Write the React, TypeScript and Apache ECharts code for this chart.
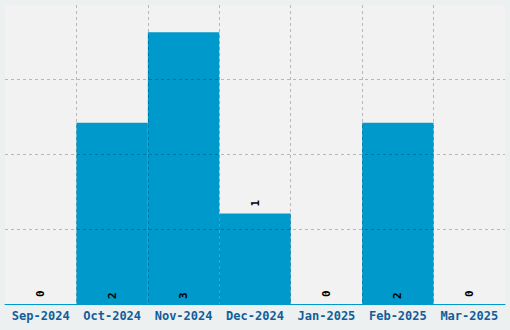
import React, { useEffect, useRef } from "react";
import * as echarts from "echarts";

const categories = ["Sep-2024", "Oct-2024", "Nov-2024", "Dec-2024", "Jan-2025", "Feb-2025", "Mar-2025"];
const values = [0, 2, 3, 1, 0, 2, 0];
const labelInside = [false, true, true, false, false, true, false];

export default function App() {
  const ref = useRef<HTMLDivElement>(null);
  useEffect(() => {
    if (!ref.current) return;
    const chart = echarts.init(ref.current, null, { renderer: "svg" });
    const mono = "DejaVu Sans Mono";
    chart.setOption({
      animation: false,
      backgroundColor: "#edf0f1",
      grid: {
        left: 5,
        right: 5,
        top: 5,
        bottom: 26,
        show: true,
        backgroundColor: "#f2f2f2",
        borderWidth: 0,
      },
      xAxis: {
        type: "category",
        data: categories,
        z: 5,
        axisLine: { show: true, lineStyle: { color: "#0099cc", width: 1 } },
        axisTick: { show: false },
        axisLabel: {
          color: "#115e99",
          fontFamily: mono,
          fontWeight: "bold",
          fontSize: 12,
          margin: 6,
          interval: 0,
        },
        splitLine: {
          show: true,
          interval: 0,
          showMinLine: false,
          showMaxLine: false,
          lineStyle: { color: "rgba(0,0,0,0.24)", type: [3, 3], width: 1 },
        },
      },
      yAxis: {
        type: "value",
        min: 0,
        max: 3.3,
        interval: 0.825,
        z: 5,
        axisLine: { show: false },
        axisTick: { show: false },
        axisLabel: { show: false },
        splitLine: {
          show: true,
          showMinLine: false,
          showMaxLine: false,
          lineStyle: { color: "rgba(0,0,0,0.24)", type: [3, 3], width: 1 },
        },
      },
      series: [
        {
          type: "bar",
          z: 1,
          barCategoryGap: 0,
          itemStyle: { color: "#0099cc" },
          data: values.map((v, i) => ({
            value: v,
            label: {
              show: true,
              rotate: 90,
              position: labelInside[i] ? "insideBottom" : "top",
              distance: labelInside[i] ? 5 : 7,
              color: "#000",
              fontFamily: mono,
              fontWeight: "bold",
              fontSize: 11,
              align: "left",
              verticalAlign: "middle",
            },
          })),
        },
      ],
    });
    return () => chart.dispose();
  }, []);
  return <div ref={ref} style={{ width: 510, height: 330, position: "absolute", left: 0, top: 0 }} />;
}
